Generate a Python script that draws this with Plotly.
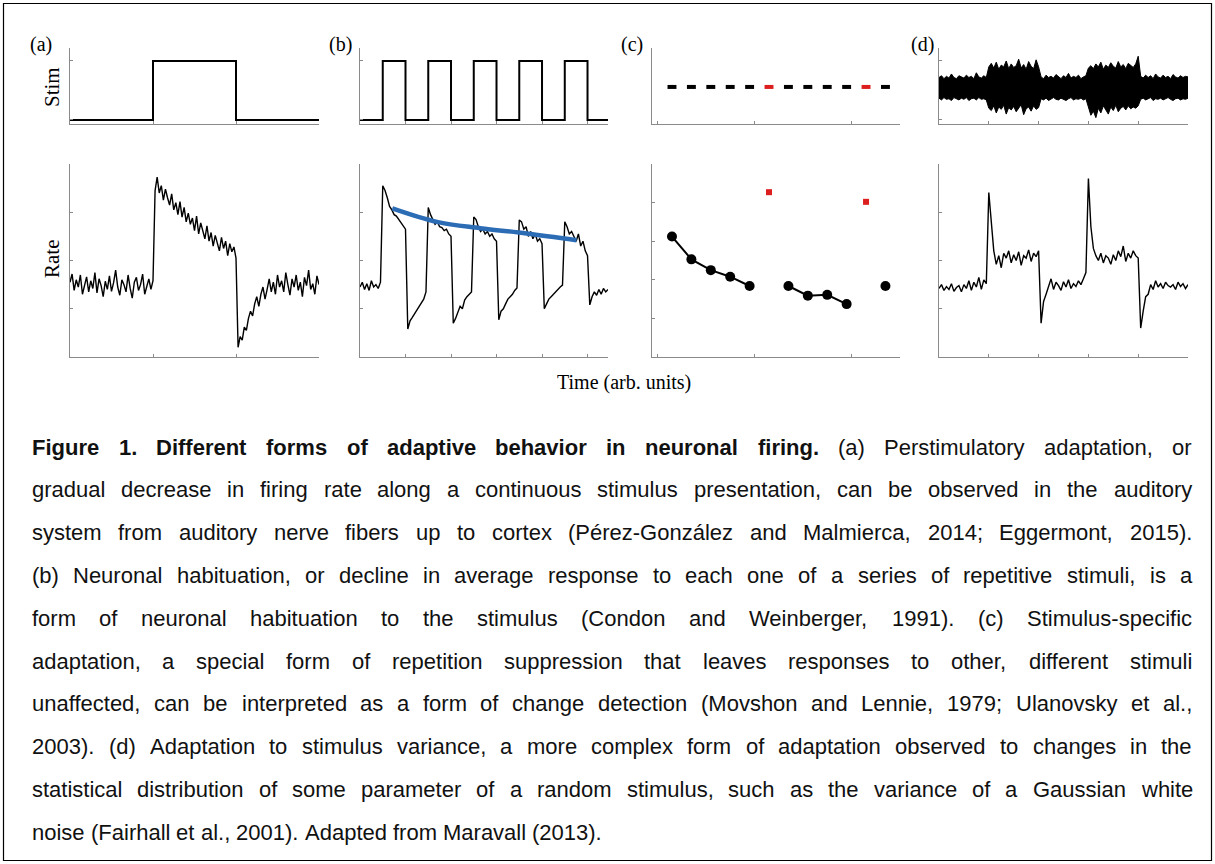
import plotly.graph_objects as go

W, H = 1215, 864

# ------------------------------------------------------------------ data
# (a) perstimulatory adaptation
stim_a_t = [0, 1, 1, 2, 2, 3]
stim_a_v = [0, 0, 1, 1, 0, 0]
rate_a_dt = 0.025
rate_a = [1.55, 1.72, 1.38, 1.60, 1.45, 1.70, 1.30, 1.52, 1.66, 1.35,
          1.58, 1.42, 1.75, 1.33, 1.62, 1.48, 1.25, 1.57, 1.40, 1.68,
          1.36, 1.54, 1.80, 1.45, 1.28, 1.60, 1.50, 1.35, 1.70, 1.42,
          1.22, 1.55, 1.65, 1.38, 1.50, 1.72, 1.30, 1.46, 1.62, 1.40, 1.58,
          3.45, 3.73, 3.40, 3.55, 3.25, 3.48, 3.30, 3.15, 3.38, 3.05,
          3.20, 2.95, 3.22, 2.90, 3.10, 2.80, 2.98, 2.75, 2.88, 2.62,
          2.92, 2.55, 2.78, 2.60, 2.45, 2.72, 2.40, 2.58, 2.30, 2.52,
          2.38, 2.20, 2.48, 2.25, 2.40, 2.10, 2.35, 2.18, 2.28, 2.05,
          0.20, 0.42, 0.35, 0.62, 0.55, 0.80, 0.95, 0.85, 1.10, 1.25,
          1.05, 1.30, 1.45, 1.20, 1.40, 1.62, 1.35, 1.55, 1.30, 1.70,
          1.45, 1.58, 1.35, 1.75, 1.50, 1.28, 1.62, 1.45, 1.70, 1.38,
          1.55, 1.25, 1.65, 1.48, 1.80, 1.40, 1.52, 1.30, 1.68, 1.50]

# (b) habituation
pulse_on = [0.5, 1.5, 2.5, 3.5, 4.5]
pulse_off = [1.0, 2.0, 3.0, 4.0, 5.0]
stim_b_end = 5.45
rate_b_dt = 0.05
rate_b = [1.45, 1.55, 1.40, 1.52, 1.38, 1.58, 1.45, 1.50, 1.42, 1.55,
          3.55, 3.45, 3.30, 3.12, 3.05, 2.95, 2.92, 2.85, 2.80, 2.72, 2.65,
          0.58, 0.75, 0.82, 0.90, 0.98, 1.05, 1.12, 1.20, 1.35,
          3.10, 2.95, 2.85, 2.75, 2.80, 2.70, 2.68, 2.62, 2.65, 2.55, 2.50,
          0.70, 0.80, 0.95, 1.05, 1.00, 1.18, 1.25, 1.30, 1.35,
          2.90, 2.85, 2.70, 2.60, 2.65, 2.55, 2.60, 2.50, 2.55, 2.45, 2.40,
          0.77, 0.95, 1.00, 1.10, 1.20, 1.25, 1.30, 1.38, 1.43,
          2.84, 2.80, 2.65, 2.70, 2.50, 2.60, 2.45, 2.55, 2.40, 2.45, 2.35,
          1.00, 1.10, 1.20, 1.25, 1.30, 1.35, 1.42, 1.45, 1.49,
          2.80, 2.70, 2.55, 2.60, 2.50, 2.40, 2.55, 2.30, 2.40, 2.20, 2.10,
          1.08, 1.25, 1.35, 1.28, 1.40, 1.30, 1.42, 1.35, 1.40]
fit_b_t = [0.71, 1.69, 2.64, 3.66, 4.76]
fit_b_v = [3.08, 2.80, 2.67, 2.56, 2.42]

# (c) stimulus-specific adaptation
trial_idx = [1, 2, 3, 4, 5, 6, 7, 8, 9, 10, 11, 12]
deviant_idx = [6, 11]
stim_c_level = 0.56
std_resp_t = [1, 2, 3, 4, 5, None, 7, 8, 9, 10, None, 12]
std_resp_v = [3.12, 2.53, 2.25, 2.08, 1.84, None, 1.84, 1.59, 1.61, 1.37, None, 1.84]
dev_resp_v = [4.27, 4.02]

# (d) adaptation to stimulus variance
stim_d_dt = 0.05
stim_d_upper = [0.72, 0.75, 0.70, 0.74, 0.71, 0.78, 0.72, 0.70, 0.75, 0.73,
                0.71, 0.76, 0.72, 0.74, 0.70, 0.80, 0.73, 0.71, 0.75, 0.72,
                0.90, 0.96, 0.88, 0.98, 0.86, 0.93, 0.90, 1.00, 0.87, 0.95,
                0.89, 0.92, 1.03, 0.88, 0.94, 0.86, 0.99, 0.91, 0.87, 1.02, 0.90,
                0.73, 0.70, 0.76, 0.72, 0.74, 0.71, 0.77, 0.73, 0.70, 0.75,
                0.72, 0.79, 0.71, 0.74, 0.72, 0.76, 0.70, 0.73, 0.75,
                0.88, 0.92, 0.87, 0.95, 0.90, 0.98, 0.86, 0.93, 0.89, 0.97,
                0.91, 0.88, 0.99, 0.90, 0.94, 0.87, 0.96, 0.92, 0.89, 0.95, 1.08,
                0.74, 0.71, 0.76, 0.72, 0.75, 0.70, 0.78, 0.73, 0.71, 0.76,
                0.72, 0.74, 0.70, 0.77, 0.73, 0.71, 0.75, 0.72, 0.74, 0.73]
stim_d_lower = [0.37, 0.34, 0.38, 0.35, 0.36, 0.33, 0.38, 0.36, 0.34, 0.37,
                0.35, 0.38, 0.33, 0.36, 0.37, 0.34, 0.38, 0.35, 0.36, 0.34,
                0.20, 0.16, 0.24, 0.12, 0.22, 0.18, 0.25, 0.10, 0.21, 0.17,
                0.23, 0.14, 0.20, 0.26, 0.09, 0.19, 0.22, 0.15, 0.24, 0.18, 0.21,
                0.36, 0.34, 0.37, 0.33, 0.36, 0.38, 0.35, 0.34, 0.37, 0.35,
                0.33, 0.36, 0.38, 0.34, 0.36, 0.35, 0.37, 0.34, 0.36,
                0.22, 0.08, 0.15, 0.04, 0.20, 0.12, 0.24, 0.18, 0.10, 0.22,
                0.16, 0.25, 0.14, 0.20, 0.23, 0.17, 0.24, 0.19, 0.22, 0.20, 0.24,
                0.35, 0.37, 0.34, 0.36, 0.38, 0.33, 0.36, 0.35, 0.37, 0.34,
                0.36, 0.38, 0.35, 0.33, 0.36, 0.37, 0.34, 0.36, 0.35, 0.37]
rate_d_dt = 0.05
rate_d = [1.42, 1.50, 1.38, 1.46, 1.40, 1.52, 1.36, 1.44, 1.48, 1.35,
          1.50, 1.42, 1.58, 1.38, 1.55, 1.45, 1.65, 1.40, 1.60, 1.52,
          3.41,
          2.80, 2.20, 1.92, 2.10, 1.85, 2.15, 2.05, 2.20, 1.95, 2.12,
          2.00, 2.18, 1.90, 2.10, 2.05, 2.22, 1.98, 2.15, 2.08,
          2.20,
          0.70, 1.15, 1.30, 1.45, 1.62, 1.40, 1.55, 1.48, 1.38, 1.56,
          1.45, 1.60, 1.42, 1.52, 1.46, 1.58, 1.50, 1.62, 1.75,
          3.70,
          2.70, 2.25, 2.10, 2.00, 2.15, 1.95, 2.10, 2.05, 1.92, 2.12,
          2.00, 2.20, 2.08, 2.30, 1.98, 2.15, 2.05, 2.20, 2.10,
          2.05,
          0.60, 0.95, 1.25, 1.30, 1.50, 1.40, 1.58, 1.45, 1.52, 1.42,
          1.55, 1.48, 1.45, 1.50, 1.40, 1.55, 1.46, 1.52, 1.42, 1.50]

panel_labels = ["(a)", "(b)", "(c)", "(d)"]
caption_lines = [
    "Figure 1. Different forms of adaptive behavior in neuronal firing. (a) Perstimulatory adaptation, or",
    "gradual decrease in firing rate along a continuous stimulus presentation, can be observed in the auditory",
    "system from auditory nerve fibers up to cortex (Pérez-González and Malmierca, 2014; Eggermont, 2015).",
    "(b) Neuronal habituation, or decline in average response to each one of a series of repetitive stimuli, is a",
    "form of neuronal habituation to the stimulus (Condon and Weinberger, 1991). (c) Stimulus-specific",
    "adaptation, a special form of repetition suppression that leaves responses to other, different stimuli",
    "unaffected, can be interpreted as a form of change detection (Movshon and Lennie, 1979; Ulanovsky et al.,",
    "2003). (d) Adaptation to stimulus variance, a more complex form of adaptation observed to changes in the",
    "statistical distribution of some parameter of a random stimulus, such as the variance of a Gaussian white",
    "noise (Fairhall et al., 2001). Adapted from Maravall (2013).",
]
bold_words_first_line = 10

# ------------------------------------------------------------------ styles
AX = "#8a8a8a"
BLUE = "#2b6cb5"
RED = "#dc1e1e"

def px_x(p):
    return p / W

def px_y(p):
    return 1 - p / H

col_px = [(70, 319), (360, 608), (652, 900), (939, 1188)]
stim_px = (48, 124)
rate_px = (164, 357)

stim_range = [-0.068, 1.22]
x_ranges = [[0, 3.0], [0, 5.45], [-0.03, 12.75], [0, 5.0]]
x_ticks = [[0, 1, 2, 3], [0, 1, 2, 3, 4, 5], [0.25, 5.25, 10.25], [0, 1, 2, 3, 4, 5]]
rate_ranges = [[0, 4], [0, 4], [0, 5], [0, 4]]
rate_ticks = [[0, 1, 2, 3, 4], [0, 1, 2, 3, 4], [0, 1, 2, 3, 4, 5], [0, 1, 2, 3, 4]]
stim_ticks = [[0, 1], [0, 1], [], [0, 1]]

layout = dict(width=W, height=H, margin=dict(l=0, r=0, t=0, b=0),
              paper_bgcolor="white", plot_bgcolor="white", showlegend=False)

def ax_common(dom, rng, ticks, anchor):
    return dict(domain=dom, range=rng, anchor=anchor, showline=True, linecolor=AX,
                linewidth=1, ticks="inside", ticklen=3, tickcolor=AX, tickwidth=1,
                tickvals=ticks, showticklabels=False, showgrid=False, zeroline=False,
                fixedrange=True)

def name(kind, n):
    return kind if n == 1 else f"{kind}{n}"

for c in range(4):
    xd = [px_x(col_px[c][0]), px_x(col_px[c][1])]
    ns, nr = 2 * c + 1, 2 * c + 2
    layout[name("xaxis", ns)] = ax_common(xd, x_ranges[c], x_ticks[c], name("y", ns))
    layout[name("yaxis", ns)] = ax_common([px_y(stim_px[1]), px_y(stim_px[0])], stim_range,
                                          stim_ticks[c], name("x", ns))
    layout[name("xaxis", nr)] = ax_common(xd, x_ranges[c], x_ticks[c], name("y", nr))
    layout[name("yaxis", nr)] = ax_common([px_y(rate_px[1]), px_y(rate_px[0])], rate_ranges[c],
                                          rate_ticks[c], name("x", nr))

fig = go.Figure()

def add(tr, n):
    tr.update(xaxis=name("x", n), yaxis=name("y", n))
    fig.add_trace(tr)

# (a)
add(go.Scatter(x=stim_a_t, y=stim_a_v, mode="lines", line=dict(color="black", width=2)), 1)
add(go.Scatter(x=[i * rate_a_dt for i in range(len(rate_a))], y=rate_a, mode="lines",
               line=dict(color="black", width=1.4)), 2)

# (b)
sb_t, sb_v = [0], [0]
for on, off in zip(pulse_on, pulse_off):
    sb_t += [on, on, off, off]
    sb_v += [0, 1, 1, 0]
sb_t.append(stim_b_end)
sb_v.append(0)
add(go.Scatter(x=sb_t, y=sb_v, mode="lines", line=dict(color="black", width=2)), 3)
add(go.Scatter(x=[i * rate_b_dt for i in range(len(rate_b))], y=rate_b, mode="lines",
               line=dict(color="black", width=1.4)), 4)
add(go.Scatter(x=fit_b_t, y=fit_b_v, mode="lines", line=dict(color=BLUE, width=4.5, shape="spline")), 4)

# (c)
half = 0.23
for color, idxs in [("black", [i for i in trial_idx if i not in deviant_idx]), (RED, deviant_idx)]:
    xs, ys = [], []
    for i in idxs:
        xs += [i - half, i + half, None]
        ys += [stim_c_level, stim_c_level, None]
    add(go.Scatter(x=xs, y=ys, mode="lines", line=dict(color=color, width=4)), 5)
add(go.Scatter(x=std_resp_t, y=std_resp_v, mode="lines+markers",
               line=dict(color="black", width=2), marker=dict(color="black", size=10)), 6)
add(go.Scatter(x=deviant_idx, y=dev_resp_v, mode="markers",
               marker=dict(color=RED, size=6, symbol="square")), 6)

# (d)
td = [i * stim_d_dt for i in range(len(stim_d_upper))]
add(go.Scatter(x=td, y=stim_d_lower, mode="lines", line=dict(color="black", width=1)), 7)
add(go.Scatter(x=td, y=stim_d_upper, mode="lines", fill="tonexty", fillcolor="black",
               line=dict(color="black", width=1)), 7)
add(go.Scatter(x=[i * rate_d_dt for i in range(len(rate_d))], y=rate_d, mode="lines",
               line=dict(color="black", width=1.4)), 8)

# ------------------------------------------------------------------ text
SERIF = "Liberation Serif"
ann = []

def label(text, xc, yc, size, angle=0):
    ann.append(dict(text=text, x=px_x(xc), y=px_y(yc), xref="paper", yref="paper",
                    xanchor="center", yanchor="middle", textangle=angle, showarrow=False,
                    font=dict(family=SERIF, size=size, color="black")))

for lab, xc in zip(panel_labels, [41, 340, 632, 922]):
    label(lab, xc, 44, 20)
label("Stim", 52, 87, 21, -90)
label("Rate", 52, 259, 21, -90)
label("Time (arb. units)", 624, 383, 20)

# caption: justified, word by word using Arial/Liberation Sans metrics
REG = {' ': 278, '!': 278, '(': 333, ')': 333, ',': 278, '-': 333, '.': 278, ':': 278, ';': 278,
       'A': 667, 'B': 667, 'C': 722, 'D': 722, 'E': 667, 'F': 611, 'G': 778, 'H': 722, 'I': 278,
       'J': 500, 'K': 667, 'L': 556, 'M': 833, 'N': 722, 'O': 778, 'P': 667, 'Q': 778, 'R': 722,
       'S': 667, 'T': 611, 'U': 722, 'V': 667, 'W': 944, 'X': 667, 'Y': 667, 'Z': 611,
       'a': 556, 'b': 556, 'c': 500, 'd': 556, 'e': 556, 'f': 278, 'g': 556, 'h': 556, 'i': 222,
       'j': 222, 'k': 500, 'l': 222, 'm': 833, 'n': 556, 'o': 556, 'p': 556, 'q': 556, 'r': 333,
       's': 500, 't': 278, 'u': 556, 'v': 500, 'w': 722, 'x': 500, 'y': 500, 'z': 500,
       'é': 556, 'á': 556}
BOLD = {' ': 278, '(': 333, ')': 333, ',': 278, '-': 333, '.': 278, ':': 333, ';': 333,
        'A': 722, 'B': 722, 'C': 722, 'D': 722, 'E': 667, 'F': 611, 'G': 778, 'H': 722, 'I': 278,
        'a': 556, 'b': 611, 'c': 556, 'd': 611, 'e': 556, 'f': 333, 'g': 611, 'h': 611, 'i': 278,
        'j': 278, 'k': 556, 'l': 278, 'm': 889, 'n': 611, 'o': 611, 'p': 611, 'q': 611, 'r': 389,
        's': 556, 't': 333, 'u': 611, 'v': 556, 'w': 778, 'x': 556, 'y': 556, 'z': 500}

def wem(word, bold):
    tab = BOLD if bold else REG
    return sum(tab.get(ch, 556) for ch in word) / 1000.0

CAP_L, CAP_R = 31, 1191
CAP_W = CAP_R - CAP_L
line_y0, line_dy = 447, 42.8

parsed = []
for li, line in enumerate(caption_lines):
    words = line.split(" ")
    flags = [(li == 0 and wi < bold_words_first_line) for wi in range(len(words))]
    parsed.append((words, flags))

nat = [sum(wem(w, b) for w, b in zip(ws, fs)) + 0.278 * (len(ws) - 1) for ws, fs in parsed]
fs_cap = min(22.0, CAP_W / max(nat))

for li, (words, flags) in enumerate(parsed):
    widths = [wem(w, b) * fs_cap for w, b in zip(words, flags)]
    last = li == len(parsed) - 1
    gap = 0.278 * fs_cap if last else (CAP_W - sum(widths)) / (len(words) - 1)
    xcur = CAP_L
    yl = line_y0 + li * line_dy
    for w, b, wd in zip(words, flags, widths):
        ann.append(dict(text=f"<b>{w}</b>" if b else w, x=px_x(xcur - 1), y=px_y(yl),
                        xref="paper", yref="paper", xanchor="left", yanchor="middle",
                        showarrow=False, font=dict(family="Liberation Sans", size=fs_cap, color="#111111")))
        xcur += wd + gap

layout["annotations"] = ann
layout["shapes"] = [dict(type="rect", xref="paper", yref="paper",
                         x0=px_x(3.5), x1=px_x(1211.5), y0=px_y(860.5), y1=px_y(3.5),
                         line=dict(color="black", width=1.2), fillcolor="rgba(0,0,0,0)")]

fig.update_layout(**layout)
fig.write_html("out.html")
